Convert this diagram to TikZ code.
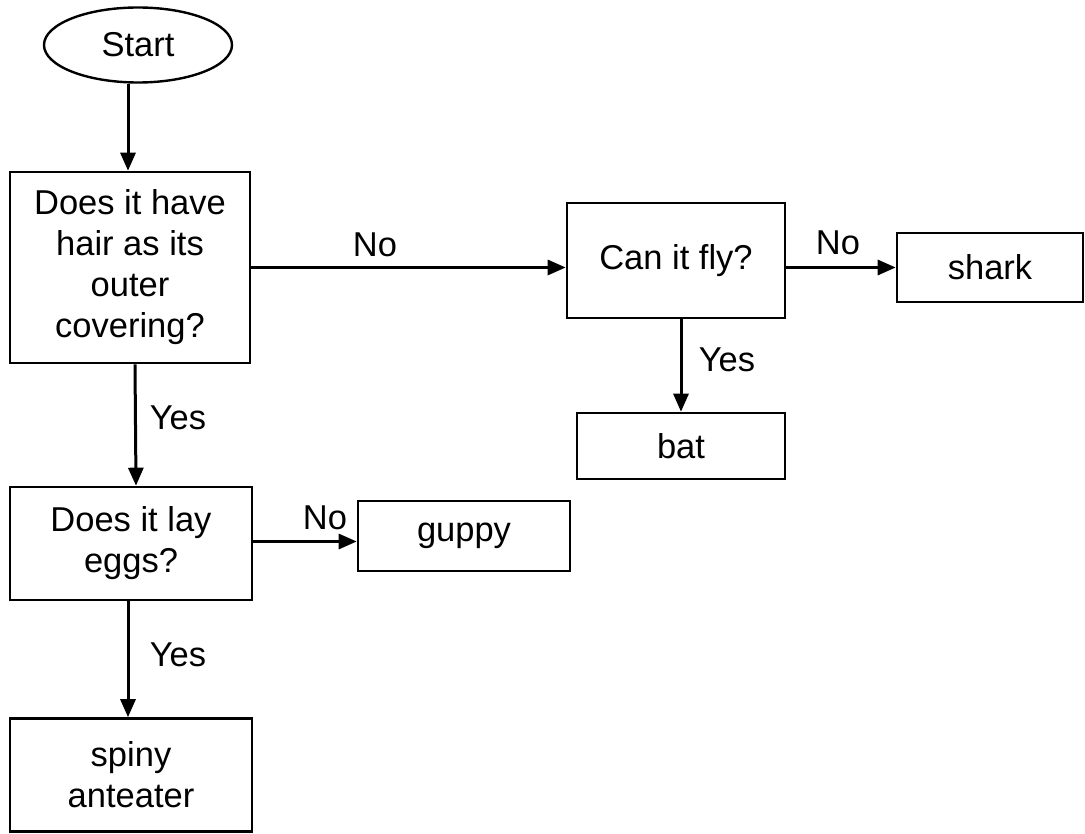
\documentclass[tikz,border=0pt]{standalone}
\usepackage{fontspec}
\setmainfont{Liberation Sans}
\usetikzlibrary{shapes.geometric,arrows.meta}
\tikzset{
  box/.style={draw, line width=2.6pt, rectangle, align=center, inner sep=0pt},
  oval/.style={draw, line width=2.4pt, ellipse, inner sep=0pt},
  arr/.style={line width=3pt, -{Triangle[length=18pt,width=15pt]}},
  lbl/.style={inner sep=0pt},
}
\begin{document}
\begin{tikzpicture}[x=1pt,y=-1pt, every node/.style={font=\fontsize{34.5}{41}\selectfont}]
\useasboundingbox (0,0) rectangle (1085,834);
\node[oval, minimum width=188pt, minimum height=75pt] (start) at (138,45) {Start};
\node[box, minimum width=240pt, minimum height=191pt] (q1) at (130,267.5) {Does it have\\hair as its\\outer\\covering?};
\node[box, minimum width=242pt, minimum height=113pt] (q2) at (131,543.5) {Does it lay\\eggs?};
\node[box, minimum width=242pt, minimum height=113pt] (spiny) at (131,775) {spiny\\anteater};
\node[box, minimum width=212pt, minimum height=70pt] (guppy) at (464,536) {guppy};
\node[box, minimum width=218pt, minimum height=115pt] (fly) at (676,260.5) {Can it fly?};
\node[box, minimum width=186pt, minimum height=69pt] (shark) at (990,267.5) {shark};
\node[box, minimum width=208pt, minimum height=66pt] (bat) at (681,446) {bat};

\draw[arr] ([xshift=-10pt]start.south) -- ([xshift=-2pt]q1.north);
\draw[arr] (q1.east) -- (q1.east -| fly.west);
\draw[arr] (shark.west -| fly.east) -- (shark.west);
\draw[arr] (fly.south -| bat.north) -- (bat.north);
\draw[arr] ([xshift=5pt]q1.south) -- ([xshift=5pt]q2.north);
\draw[arr] ([yshift=2pt]q2.east) -- ([yshift=2pt]q2.east -| guppy.west);
\draw[arr] ([xshift=-3pt]q2.south) -- ([xshift=-3pt]spiny.north);

\node[lbl] (l1) at (375,245) {No};
\node[lbl] (l2) at (838,243) {No};
\node[lbl] (l3) at (727,360) {Yes};
\node[lbl] (l4) at (178,418) {Yes};
\node[lbl] (l5) at (325,518) {No};
\node[lbl] (l6) at (178,655) {Yes};
\end{tikzpicture}
\end{document}
